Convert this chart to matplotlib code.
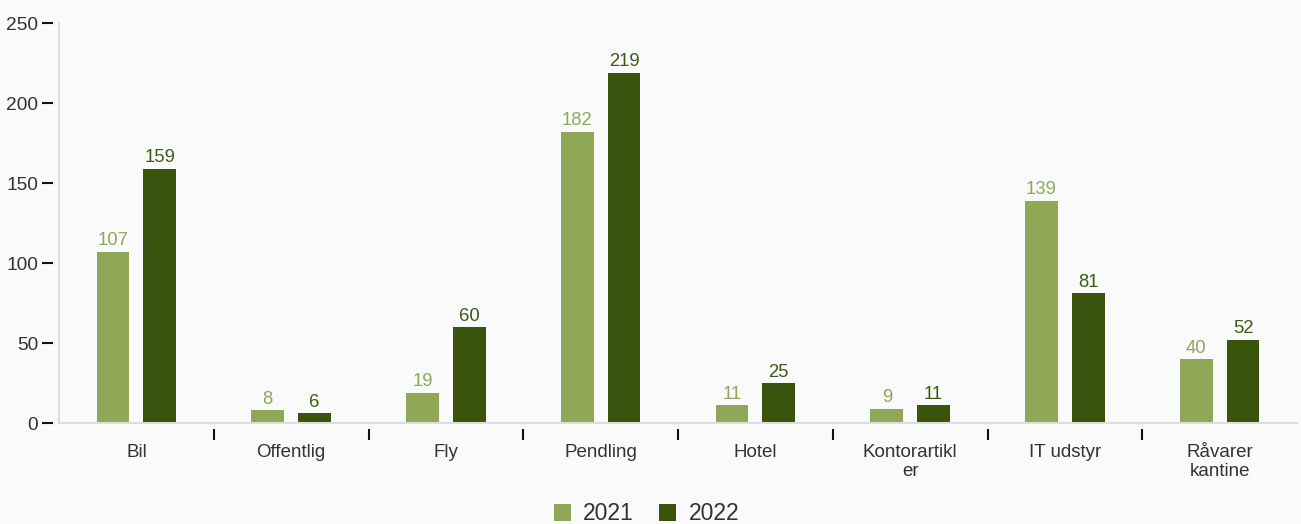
import matplotlib
matplotlib.use("Agg")
import matplotlib.pyplot as plt
import numpy as np

plt.rcParams['font.family'] = ['Liberation Sans', 'DejaVu Sans']

categories = ['Bil', 'Offentlig', 'Fly', 'Pendling', 'Hotel', 'Kontorartikl\ner', 'IT udstyr', 'Råvarer\nkantine']
v2021 = [107, 8, 19, 182, 11, 9, 139, 40]
v2022 = [159, 6, 60, 219, 25, 11, 81, 52]
years = ['2021', '2022']

c_light = '#8ea858'
c_dark = '#3a540d'
bg = '#fafafa'

fig = plt.figure(figsize=(13.01, 5.24), dpi=100, facecolor=bg)
ax = fig.add_axes([59/1301, 1-423/524, 1238/1301, 400/524], facecolor=bg)

x = np.arange(len(categories))
w = 0.212
off = 0.151
b1 = ax.bar(x - off, v2021, w, color=c_light, label=years[0])
b2 = ax.bar(x + off, v2022, w, color=c_dark, label=years[1])

for r, v in zip(b1, v2021):
    ax.text(r.get_x() + r.get_width()/2, v + 1.5, str(v), ha='center', va='bottom', fontsize=13.3, color=c_light)
for r, v in zip(b2, v2022):
    ax.text(r.get_x() + r.get_width()/2, v + 1.5, str(v), ha='center', va='bottom', fontsize=13.3, color='#3f5a18')

ax.set_xlim(-0.5, len(categories) - 0.5)
ax.set_ylim(0, 250)
ax.set_yticks([0, 50, 100, 150, 200, 250])

# boundaries get the tick marks, labels sit at the centres
ax.set_xticks(np.arange(0.5, len(categories) - 0.5, 1))
ax.set_xticklabels([])
ax.set_xticks(x, minor=True)
ax.set_xticklabels(categories, minor=True, linespacing=1.45)
ax.tick_params(axis='x', which='minor', length=0, pad=11, labelsize=13.5, labelcolor='#333333')
ax.tick_params(axis='x', which='major', length=8, width=1.5, color='#111111', direction='out')
ax.tick_params(axis='y', length=8, width=1.5, color='#111111', pad=3, labelsize=13.8, labelcolor='#333333')

for s in ['top', 'right']:
    ax.spines[s].set_visible(False)
ax.spines['left'].set_position(('outward', 4))
ax.spines['bottom'].set_position(('outward', 4))
ax.spines['left'].set_visible(False)
ax.spines['bottom'].set_visible(False)
ax.axvline(-0.5, color='#dddddd', lw=1.5, clip_on=False)
ax.axhline(0, color='#dddddd', lw=1.5, clip_on=False)

leg = fig.legend(loc='lower center', bbox_to_anchor=(0.497, -0.042), ncol=2, frameon=False,
                 fontsize=16.5, handlelength=0.75, handleheight=0.75, handletextpad=0.55, columnspacing=1.1)
for t in leg.get_texts():
    t.set_color('#333333')

fig.savefig('out.png', dpi=100, facecolor=bg)
